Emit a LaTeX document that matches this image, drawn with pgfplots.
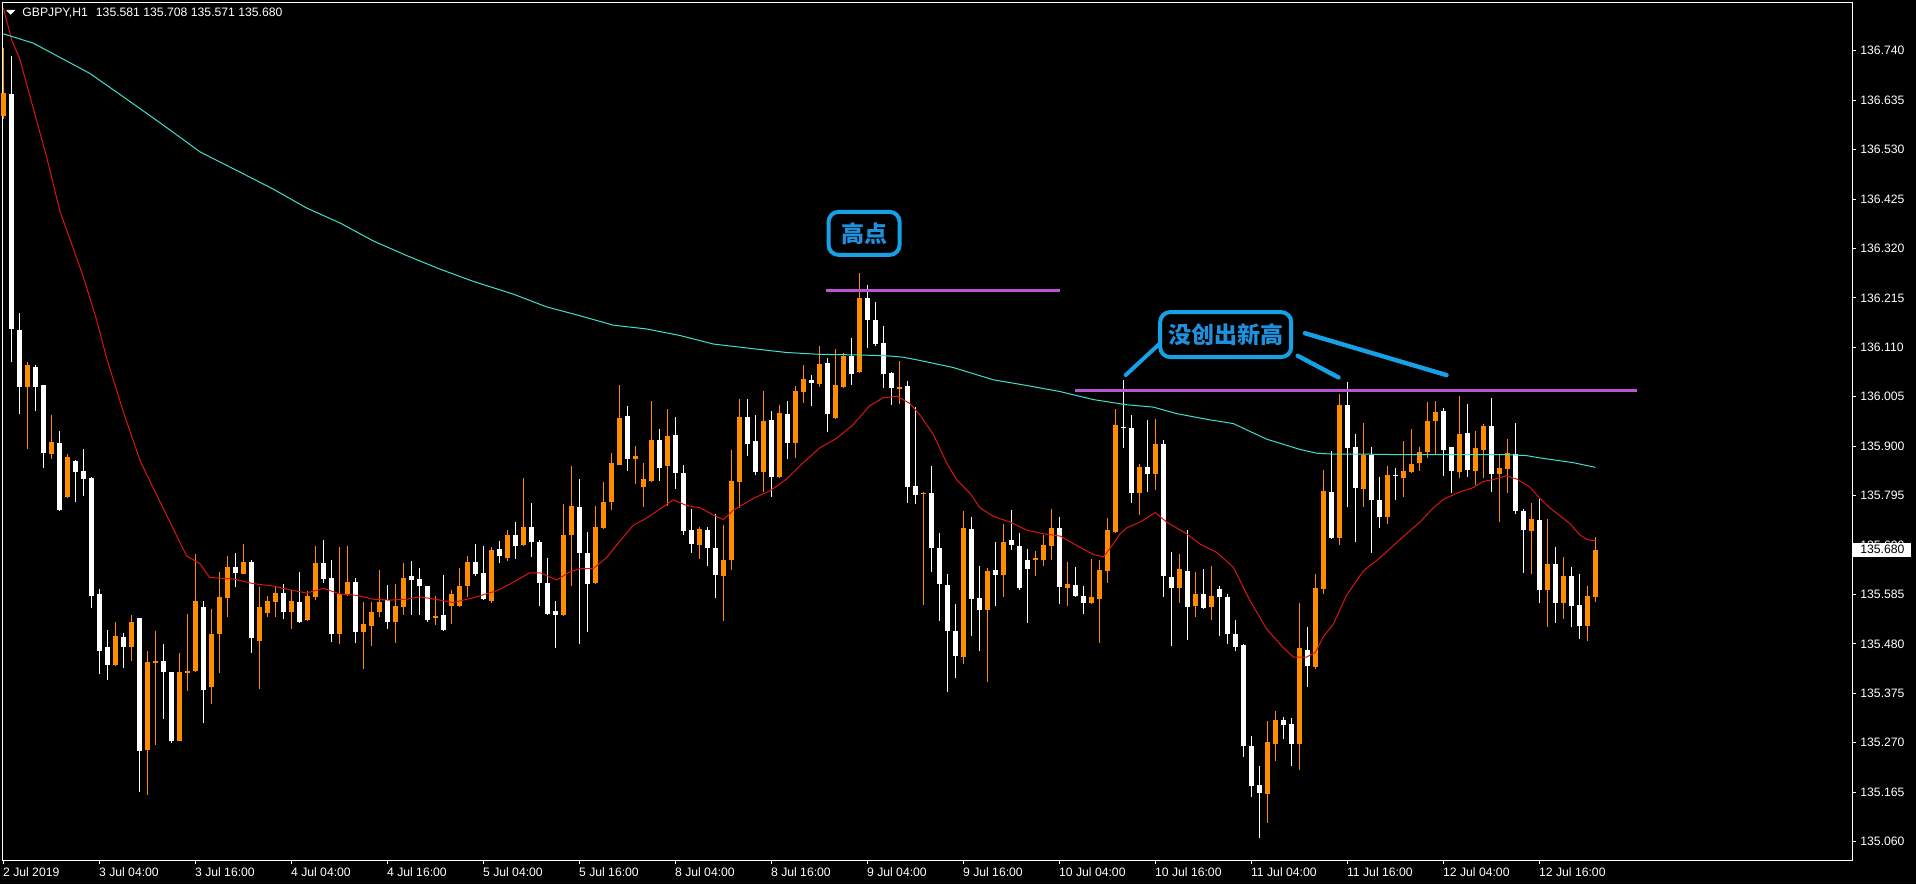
\documentclass[border=0pt]{standalone}
\usepackage{fontspec}
\setmainfont{Liberation Sans}
\newfontfamily\cjk{Noto Sans CJK SC}
\usepackage{pgfplots}
\pgfplotsset{compat=1.18}
\usepackage{pgfplotstable}
\usetikzlibrary{backgrounds}

\definecolor{bull}{RGB}{255,140,0}
\definecolor{mared}{RGB}{220,20,20}
\definecolor{macyan}{RGB}{64,224,208}
\definecolor{lvl}{RGB}{186,85,211}
\definecolor{callout}{RGB}{22,160,230}
\definecolor{callouttext}{RGB}{30,144,220}
\newcommand\mtfont{\fontsize{6.1}{7.3}\selectfont}
% y scale of the axis: 428.65pt / (136.842-135.021) = 235.4 pt per yen,
% half of it gives the size of a '|' mark spanning a price range
\pgfplotsset{
  candle/.style n args={3}{scatter, only marks, mark=|, forget plot,
    point meta=x, line width=#2,
    scatter/use mapped color={draw=#1},
    mark options={line width=#2, line cap=butt},
    visualization depends on={#3 \as \msz},
    scatter/@pre marker code/.append style={/tikz/mark size=\msz}},
}

% GBPJPY H1 bars (index, open, high, low, close): rising bars
\pgfplotstableread{
i o h l c
0 136.602 136.746 136.594 136.650
3 136.027 136.080 135.894 136.073
6 135.885 135.968 135.874 135.910
8 135.793 135.885 135.791 135.877
14 135.437 135.527 135.434 135.497
16 135.474 135.542 135.445 135.528
18 135.255 135.464 135.160 135.442
19 135.441 135.509 135.267 135.445
22 135.275 135.461 135.273 135.420
23 135.420 135.543 135.380 135.423
24 135.423 135.671 135.421 135.570
26 135.389 135.555 135.353 135.502
27 135.502 135.633 135.418 135.580
28 135.576 135.666 135.538 135.643
30 135.630 135.693 135.628 135.655
32 135.487 135.603 135.386 135.560
33 135.546 135.583 135.538 135.571
34 135.570 135.603 135.538 135.588
36 135.548 135.595 135.512 135.571
38 135.532 135.593 135.530 135.582
39 135.580 135.689 135.575 135.653
42 135.502 135.687 135.482 135.587
43 135.586 135.690 135.583 135.613
45 135.505 135.570 135.427 135.522
46 135.520 135.570 135.477 135.548
47 135.548 135.636 135.538 135.570
49 135.527 135.607 135.482 135.561
50 135.560 135.653 135.542 135.622
54 135.536 135.583 135.522 135.540
56 135.563 135.595 135.522 135.588
57 135.561 135.641 135.558 135.603
58 135.603 135.668 135.581 135.653
61 135.573 135.686 135.568 135.681
63 135.663 135.722 135.658 135.712
65 135.691 135.833 135.689 135.728
70 135.542 135.779 135.540 135.712
71 135.712 135.857 135.603 135.773
74 135.611 135.773 135.609 135.729
75 135.727 135.824 135.725 135.782
76 135.781 135.886 135.764 135.864
77 135.862 136.030 135.860 135.961
79 135.874 135.900 135.820 135.880
80 135.814 135.864 135.771 135.831
81 135.828 135.997 135.826 135.915
83 135.858 135.979 135.774 135.923
87 135.691 135.729 135.661 135.724
90 135.625 135.734 135.529 135.660
91 135.658 135.893 135.638 135.827
92 135.825 136.001 135.769 135.964
95 135.845 136.018 135.803 135.954
97 135.835 135.989 135.833 135.971
99 135.907 136.029 135.875 136.018
100 136.016 136.073 135.994 136.044
102 136.034 136.112 136.026 136.075
104 135.961 136.107 135.959 136.030
105 136.026 136.099 136.024 136.092
107 136.058 136.268 136.056 136.215
112 136.023 136.081 135.991 136.028
115 135.798 135.803 135.563 135.801
120 135.454 135.764 135.439 135.728
123 135.553 135.640 135.399 135.636
125 135.627 135.736 135.580 135.697
129 135.658 135.678 135.625 135.663
130 135.658 135.712 135.646 135.691
131 135.689 135.769 135.660 135.728
133 135.600 135.655 135.561 135.608
136 135.568 135.660 135.565 135.580
137 135.576 135.660 135.484 135.638
138 135.636 135.749 135.610 135.722
139 135.719 135.979 135.716 135.946
142 135.802 135.862 135.754 135.857
144 135.842 135.959 135.808 135.905
147 135.598 135.672 135.568 135.640
149 135.560 135.633 135.538 135.586
151 135.558 135.646 135.532 135.583
158 135.163 135.316 135.101 135.273
159 135.268 135.338 135.233 135.319
162 135.268 135.568 135.213 135.472
164 135.432 135.628 135.427 135.598
165 135.598 135.850 135.588 135.805
167 135.707 136.011 135.691 135.989
170 135.810 135.950 135.772 135.882
173 135.751 135.859 135.736 135.839
175 135.832 135.913 135.794 135.848
176 135.845 135.936 135.843 135.863
177 135.865 135.900 135.848 135.890
178 135.888 135.994 135.875 135.954
179 135.954 135.997 135.885 135.975
182 135.847 136.009 135.835 135.927
184 135.848 135.933 135.818 135.897
185 135.893 135.948 135.833 135.944
187 135.842 135.882 135.739 135.855
188 135.853 135.915 135.800 135.887
191 135.721 135.781 135.630 135.746
193 135.595 135.746 135.517 135.650
195 135.568 135.666 135.534 135.626
198 135.519 135.605 135.487 135.583
199 135.581 135.708 135.571 135.680
}\bulltab

% falling bars
\pgfplotstableread{
i o h l c
1 136.648 136.729 136.080 136.150
2 136.149 136.183 135.969 136.028
4 136.069 136.074 135.976 136.028
5 136.030 136.032 135.854 135.885
7 135.908 135.934 135.763 135.765
9 135.870 135.872 135.783 135.846
10 135.847 135.894 135.796 135.830
11 135.834 135.836 135.558 135.583
12 135.588 135.598 135.418 135.466
13 135.473 135.510 135.404 135.436
15 135.497 135.504 135.428 135.474
17 135.534 135.536 135.166 135.252
20 135.445 135.481 135.322 135.420
21 135.420 135.422 135.270 135.275
25 135.559 135.573 135.313 135.384
29 135.643 135.673 135.602 135.631
31 135.655 135.659 135.462 135.492
35 135.590 135.608 135.532 135.548
37 135.571 135.633 135.525 135.527
40 135.653 135.701 135.610 135.618
41 135.620 135.659 135.485 135.502
44 135.611 135.622 135.482 135.505
48 135.573 135.607 135.514 135.527
51 135.625 135.658 135.542 135.617
52 135.617 135.643 135.542 135.603
53 135.603 135.605 135.527 135.532
55 135.541 135.628 135.508 135.510
59 135.655 135.693 135.626 135.628
60 135.631 135.687 135.573 135.576
62 135.682 135.699 135.653 135.666
64 135.712 135.739 135.661 135.689
66 135.728 135.781 135.666 135.696
67 135.697 135.700 135.560 135.610
68 135.611 135.663 135.542 135.546
69 135.550 135.571 135.472 135.542
72 135.773 135.831 135.482 135.674
73 135.674 135.720 135.507 135.608
78 135.964 135.986 135.848 135.873
82 135.915 135.936 135.827 135.856
84 135.925 135.964 135.810 135.843
85 135.845 135.860 135.711 135.721
86 135.722 135.767 135.674 135.694
88 135.724 135.729 135.646 135.684
89 135.686 135.757 135.578 135.627
93 135.964 136.001 135.880 135.907
94 135.911 135.966 135.839 135.845
96 135.956 135.974 135.792 135.835
98 135.969 135.996 135.873 135.907
101 136.043 136.053 135.986 136.036
103 136.077 136.089 135.932 135.969
106 136.092 136.130 136.031 136.054
108 136.215 136.243 136.110 136.169
109 136.170 136.206 136.112 136.119
110 136.120 136.157 136.026 136.054
111 136.056 136.058 135.989 136.024
113 136.028 136.039 135.779 135.814
114 135.817 135.983 135.777 135.798
116 135.801 135.859 135.633 135.686
117 135.684 135.717 135.530 135.608
118 135.605 135.628 135.379 135.507
119 135.507 135.566 135.409 135.454
121 135.726 135.751 135.497 135.577
122 135.577 135.645 135.465 135.551
124 135.638 135.696 135.560 135.627
126 135.701 135.764 135.681 135.691
127 135.688 135.716 135.595 135.600
128 135.660 135.684 135.525 135.640
132 135.728 135.751 135.566 135.603
134 135.607 135.645 135.581 135.583
135 135.583 135.605 135.546 135.568
140 135.943 136.042 135.897 135.940
141 135.939 135.966 135.779 135.802
143 135.857 135.956 135.803 135.842
145 135.905 135.915 135.581 135.625
146 135.622 135.676 135.477 135.598
148 135.636 135.724 135.490 135.560
150 135.586 135.640 135.556 135.558
152 135.598 135.603 135.497 135.580
153 135.580 135.588 135.480 135.500
154 135.502 135.532 135.465 135.475
155 135.477 135.480 135.240 135.263
156 135.263 135.286 135.157 135.178
157 135.180 135.222 135.069 135.164
160 135.319 135.326 135.278 135.308
161 135.311 135.323 135.222 135.268
163 135.469 135.517 135.388 135.435
166 135.803 135.890 135.702 135.707
168 135.989 136.038 135.772 135.897
169 135.900 135.927 135.696 135.813
171 135.882 135.900 135.674 135.787
172 135.786 135.835 135.726 135.751
174 135.841 135.855 135.786 135.838
180 135.975 135.981 135.837 135.893
181 135.898 135.900 135.803 135.847
183 135.930 135.989 135.835 135.850
186 135.943 136.002 135.803 135.842
189 135.885 135.949 135.756 135.763
190 135.764 135.766 135.630 135.722
192 135.744 135.789 135.568 135.595
194 135.650 135.687 135.524 135.568
196 135.625 135.645 135.517 135.561
197 135.563 135.630 135.492 135.519
}\beartab

\begin{document}
\begin{tikzpicture}
\begin{axis}[
    name=ax,
    % prices sit far from zero on a narrow range: shift them before scaling
    y coord trafo/.code={\pgfmathparse{#1-135}},
    y coord inv trafo/.code={\pgfmathparse{#1+135}},
    scale only axis, width=924.65pt, height=428.65pt,
    xmin=-0.075, xmax=231.09, ymin=135.021, ymax=136.842,
    axis background/.style={fill=black},
    axis line style={white, line width=0.5pt},
    tick align=outside, major tick length=2pt,
    tick style={white, line width=0.5pt},
    xtick pos=left, ytick pos=right, yticklabel pos=right,
    xtick={0,12,...,192},
    xticklabels={2 Jul 2019,3 Jul 04:00,3 Jul 16:00,4 Jul 04:00,4 Jul 16:00,5 Jul 04:00,5 Jul 16:00,8 Jul 04:00,8 Jul 16:00,9 Jul 04:00,9 Jul 16:00,10 Jul 04:00,10 Jul 16:00,11 Jul 04:00,11 Jul 16:00,12 Jul 04:00,12 Jul 16:00},
    ytick={135.060,135.165,135.270,135.375,135.480,135.585,135.690,135.795,135.900,136.005,136.110,136.215,136.320,136.425,136.530,136.635,136.740},
    yticklabels={135.060,135.165,135.270,135.375,135.480,135.585,135.690,135.795,135.900,136.005,136.110,136.215,136.320,136.425,136.530,136.635,136.740},
    ticklabel style={text=white, font=\mtfont, inner sep=0pt},
    xticklabel style={anchor=north west, xshift=-0.3pt, yshift=-1.6pt},
    yticklabel style={anchor=west, xshift=2pt},
    clip mode=individual,
]
% wicks
\addplot[candle={bull}{0.5pt}{117.7*(\thisrow{h}-\thisrow{l})}]
    table[x=i, y expr={(\thisrow{h}+\thisrow{l})/2}]{\bulltab};
\addplot[candle={white}{0.5pt}{117.7*(\thisrow{h}-\thisrow{l})}]
    table[x=i, y expr={(\thisrow{h}+\thisrow{l})/2}]{\beartab};
% bodies
\addplot[candle={bull}{2.5pt}{117.7*(\thisrow{c}-\thisrow{o})}]
    table[x=i, y expr={(\thisrow{o}+\thisrow{c})/2}]{\bulltab};
\addplot[candle={white}{2.5pt}{117.7*(\thisrow{o}-\thisrow{c})}]
    table[x=i, y expr={(\thisrow{o}+\thisrow{c})/2}]{\beartab};

% moving averages
\addplot[mared, line width=0.5pt, mark=none] coordinates {
(0,136.831)(1.05,136.763)(2.08,136.721)(3.75,136.617)(5.42,136.514)(7.08,136.399)(10,136.260)(11.67,136.168)(12.9,136.088)(15,135.973)(17.1,135.869)(18.75,135.811)(20.4,135.754)(22.9,135.667)(24.6,135.650)(25.8,135.621)(28.75,135.618)(31.25,135.608)(33.75,135.603)(35.8,135.595)(37.9,135.588)(40,135.598)(42.1,135.586)(44.2,135.583)(46.25,135.575)(48.3,135.573)(50.4,135.575)(52.1,135.580)(54.6,135.573)(56.25,135.568)(58.75,135.578)(61.7,135.593)(63.75,135.611)(65.8,135.631)(67.1,135.631)(69.2,135.616)(70.8,135.633)(72.1,135.640)(73.75,135.640)(75.4,135.663)(77.1,135.699)(78.75,135.732)(80.4,135.747)(82.1,135.767)(83.75,135.786)(85.4,135.774)(87.1,135.769)(88.75,135.754)(90,135.744)(91.25,135.764)(93.75,135.789)(95.8,135.805)(97.9,135.830)(100,135.865)(102.1,135.897)(104.2,135.917)(106.25,135.946)(108.3,135.986)(110,136.003)(111.7,136.006)(113.3,135.991)(114.6,135.966)(116.25,135.925)(117.9,135.865)(119.2,135.828)(120.8,135.801)(122.1,135.769)(123.75,135.751)(125.8,135.739)(127.9,135.722)(130,135.714)(132.1,135.709)(134.2,135.689)(136.25,135.670)(137.5,135.665)(138.3,135.682)(139.6,135.714)(140.4,135.726)(142.1,135.739)(144,135.759)(145.4,135.739)(147.9,135.714)(149.6,135.692)(151.7,135.674)(153.75,135.643)(155.8,135.573)(157.9,135.512)(160,135.472)(161.25,135.452)(162.9,135.452)(164,135.462)(165,135.495)(166.25,135.522)(167.9,135.583)(170,135.635)(172.1,135.663)(173.75,135.689)(175.4,135.714)(177.1,135.739)(178.75,135.769)(180,135.787)(182.1,135.803)(183.75,135.812)(185,135.825)(186.25,135.829)(187.9,135.837)(189.2,135.830)(190.8,135.813)(192.1,135.789)(193.3,135.769)(194.6,135.752)(195.8,135.736)(197.1,135.711)(198.1,135.701)(199,135.699)
};
\addplot[macyan, line width=0.5pt, mark=none] coordinates {
(0,136.776)(3.75,136.756)(10.8,136.692)(17.1,136.617)(20.4,136.577)(24.6,136.525)(29.6,136.482)(33.75,136.446)(37.9,136.406)(42.1,136.374)(46.25,136.336)(50.4,136.305)(54.6,136.276)(58.75,136.250)(63.75,136.223)(67.9,136.196)(72.1,136.177)(76.25,136.157)(80.4,136.149)(84.6,136.135)(88.75,136.117)(93.75,136.107)(97.9,136.099)(102.1,136.095)(106.25,136.094)(110.4,136.092)(112.5,136.089)(114.6,136.082)(118.75,136.067)(123.75,136.041)(127.9,136.029)(132.1,136.016)(136.25,135.999)(140.4,135.988)(143.75,135.983)(146.7,135.969)(150.8,135.956)(153.75,135.948)(157.9,135.915)(162.1,135.893)(164.2,135.885)(166.25,135.883)(170.4,135.883)(174.6,135.882)(178.75,135.882)(183.75,135.882)(187.9,135.882)(190.4,135.880)(192.1,135.875)(196.25,135.865)(199,135.855)
};

% level lines
\addplot[lvl, line width=1.5pt, mark=none] coordinates {(102.8,136.231) (132.1,136.231)};
\addplot[lvl, line width=1.5pt, mark=none] coordinates {(133.96,136.019) (204.2,136.019)};

% callouts
\node[draw=callout, line width=2pt, rounded corners=5pt, fill=black,
      minimum width=35.5pt, minimum height=21.5pt, inner sep=0pt,
      text=callouttext, font={\fontsize{11.5}{13}\selectfont\cjk\bfseries}]
      at (axis cs:107.6,136.352) {高点};
\draw[callout, line width=2pt, line cap=round]
      (axis cs:144.5,136.117) -- (axis cs:140.3,136.051);
\draw[callout, line width=2.2pt, line cap=round]
      (axis cs:162.7,136.140) -- (axis cs:180.4,136.051);
\draw[callout, line width=2.2pt, line cap=round]
      (axis cs:161.8,136.092) -- (axis cs:166.9,136.046);
\node[draw=callout, line width=2pt, rounded corners=5pt, fill=black,
      minimum width=65.5pt, minimum height=22.5pt, inner sep=0pt,
      text=callouttext, font={\fontsize{11.5}{13}\selectfont\cjk\bfseries}]
      at (axis cs:152.8,136.137) {没创出新高};

% header
\fill[white] ([xshift=1.65pt,yshift=-3.65pt]rel axis cs:0,1) -- ++(4.65pt,0pt) -- ++(-2.325pt,-2.35pt) -- cycle;
\node[anchor=west, inner sep=0pt, text=white, font=\mtfont, xshift=9.65pt, yshift=-5pt]
      at (rel axis cs:0,1) {GBPJPY,H1\hspace{4pt}135.581 135.708 135.571 135.680};
\coordinate (lastprice) at (axis cs:231.09,135.680);
\end{axis}
% current price marker, laid over the right-hand scale
\node[fill=white, text=black, font=\mtfont, anchor=west, inner sep=0pt,
      minimum width=29pt, minimum height=7pt, xshift=0.5pt]
      at (lastprice) {135.680};
\begin{scope}[on background layer]
\fill[black] ([shift={(-1.35pt,-12pt)}]ax.south west) rectangle ([shift={(32pt,1.35pt)}]ax.north east);
\end{scope}
\pgfresetboundingbox
\path ([shift={(-1.35pt,-12pt)}]ax.south west) rectangle ([shift={(32pt,1.35pt)}]ax.north east);
\end{tikzpicture}
\end{document}
